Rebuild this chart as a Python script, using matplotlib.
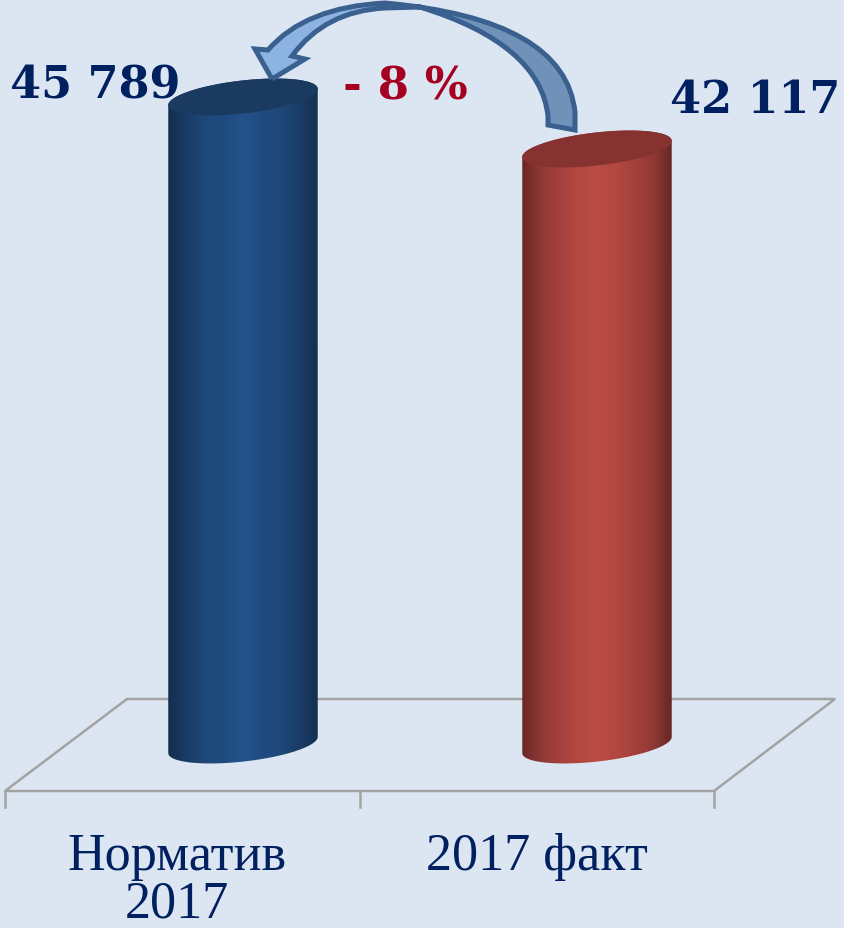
import numpy as np
import matplotlib
matplotlib.use('Agg')
import matplotlib.pyplot as plt
from matplotlib.colors import LinearSegmentedColormap
from matplotlib.patches import PathPatch, Polygon
from matplotlib.path import Path
from matplotlib.transforms import Affine2D

categories = ['Норматив\n2017', '2017 факт']
values = [45789, 42117]
value_labels = ['45 789', '42 117']
change_label = '- 8 %'

W, H = 844, 929
BG = '#dce6f2'
NAVY = '#002060'

# pixel scale of the chart
px_per_cat = 354
px_per_val = 648 / 45789
x0_px = 243
y0_px = 746


def cylinder_outline(i, v, half_w=75.2, half_h=16.5, tilt=6.5):
    th = np.radians(tilt)
    t = np.linspace(0, 2 * np.pi, 181)
    ex = half_w * np.cos(t) * np.cos(th) - half_h * np.sin(t) * np.sin(th)
    ey = half_w * np.cos(t) * np.sin(th) + half_h * np.sin(t) * np.cos(th)
    to_x = i + ex / px_per_cat
    top = np.column_stack([to_x, v + ey / px_per_val])
    bottom = np.column_stack([to_x, ey / px_per_val])
    # lower half of the base joined with the top ellipse gives the body
    left = np.argmin(ex)
    right = np.argmax(ex)
    if left < right:
        base_arc = bottom[left:right + 1]
    else:
        base_arc = np.vstack([bottom[left:], bottom[:right + 1]])
    if right < left:
        top_arc = top[right:left + 1]
    else:
        top_arc = np.vstack([top[right:], top[:left + 1]])
    body = np.vstack([base_arc, top_arc])
    return body, top


fig = plt.figure(figsize=(W / 100, H / 100), dpi=100, facecolor=BG)
ax = fig.add_axes([0, 0, 1, 1])
ax.set_facecolor(BG)
ax.axis('off')
xlim = (-x0_px / px_per_cat, (W - x0_px) / px_per_cat)
ylim = ((y0_px - H) / px_per_val, y0_px / px_per_val)
ax.set_xlim(xlim)
ax.set_ylim(ylim)

px = Affine2D().scale(1, -1).translate(0, H)

# floor
ax.add_patch(Polygon([(5, 792), (127, 700), (835, 700), (714, 792)], closed=True, fill=False,
                     ec='#a3a3a3', lw=1.8, transform=px, zorder=1))
for i in range(len(categories) + 1):
    tx = 5 + i * px_per_cat + i * 0.5
    ax.plot([tx, tx], [792, 808], color='#a3a3a3', lw=1.8, transform=px, zorder=1)

cmaps = [
    LinearSegmentedColormap.from_list('b', ['#142e4e', '#1a3c66', '#1e4879', '#1f4c80', '#23528a', '#1f4c80',
                                            '#1e4879', '#1a3c66', '#14304f']),
    LinearSegmentedColormap.from_list('r', ['#6a2725', '#8f3835', '#a5413d', '#b3483f', '#bb4c47', '#b3483f',
                                            '#a5413d', '#8f3835', '#652523']),
]
top_colors = ['#1a3a60', '#863230']
grad = np.linspace(0, 1, 256).reshape(1, -1)

for i, v in enumerate(values):
    body, top = cylinder_outline(i, v)
    hw = 75.2 / px_per_cat
    im = ax.imshow(grad, cmap=cmaps[i], aspect='auto', zorder=2,
                   extent=(i - hw, i + hw, -40 / px_per_val, v + 40 / px_per_val))
    patch = PathPatch(Path(body), fc='none', ec='none', transform=ax.transData)
    ax.add_patch(patch)
    im.set_clip_path(patch)
    ax.fill(top[:, 0], top[:, 1], color=top_colors[i], lw=0, zorder=3)
ax.set_xlim(xlim)
ax.set_ylim(ylim)

# curved arrow from the red bar to the blue one
ARROW = '#3a6090'
M, C, L = Path.MOVETO, Path.CURVE3, Path.LINETO
left_part = [((272, 80), M), ((255, 50), L), ((268, 51), L),
             ((305, 8), C), ((385, 4), C), ((385, 9), L),
             ((325, 12), C), ((292, 57), C), ((305, 60), L), ((272, 80), L)]
right_part = [((385, 4), M), ((565, 20), C), ((575, 113), C), ((575, 131), L),
              ((548, 126), L), ((548, 117), L), ((540, 45), C), ((420, 8), C), ((385, 9), L), ((385, 4), L)]
outline = [((272, 80), M), ((255, 50), L), ((268, 51), L),
           ((305, 8), C), ((385, 4), C),
           ((565, 20), C), ((575, 113), C), ((575, 131), L),
           ((548, 126), L), ((548, 117), L), ((540, 45), C), ((420, 8), C), ((385, 9), L),
           ((325, 12), C), ((292, 57), C), ((305, 60), L), ((272, 80), L)]
for part, fc in [(right_part, '#7092b8'), (left_part, '#8db3e2')]:
    pts, codes = zip(*part)
    ax.add_patch(PathPatch(Path(pts, codes), fc=fc, ec='none', transform=px, zorder=4))
pts, codes = zip(*outline)
ax.add_patch(PathPatch(Path(pts, codes), fc='none', ec=ARROW, lw=3.6, joinstyle='miter',
                       transform=px, zorder=4))

# texts
serif = 'DejaVu Serif'
ax.text(95, 86, value_labels[0], transform=px, color=NAVY, fontsize=32, fontweight='bold',
        family=serif, ha='center', va='center', zorder=5)
ax.text(755, 101, value_labels[1], transform=px, color=NAVY, fontsize=32, fontweight='bold',
        family=serif, ha='center', va='center', zorder=5)
ax.text(405, 87, change_label, transform=px, color='#a50021', fontsize=32.5, fontweight='bold',
        family=serif, ha='center', va='center', zorder=5)
baselines = [870, 918]
for i, lab in enumerate(categories):
    for line, base in zip(lab.split('\n'), baselines):
        ax.text(177 + i * 360, base, line, transform=px, color=NAVY, fontsize=37.5,
                family='Liberation Serif', ha='center', va='baseline', zorder=5)

fig.savefig('out.png', dpi=100, facecolor=BG)
